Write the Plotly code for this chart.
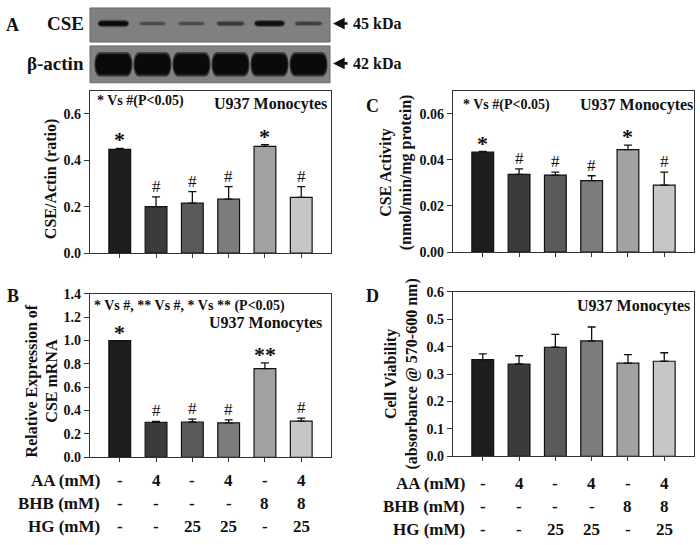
import plotly.graph_objects as go

W, H = 700, 545
FONT = "Liberation Serif, Times New Roman, serif"

lanes = [0, 1, 2, 3, 4, 5]
bar_colors = ["#1e1e1e", "#3b3b3b", "#5a5a5a", "#7c7c7c", "#a2a2a2", "#c6c6c6"]

# Panel A: CSE/Actin ratio
a_vals = [0.447, 0.200, 0.215, 0.232, 0.460, 0.240]
a_err = [0.004, 0.042, 0.050, 0.054, 0.007, 0.046]
a_marks = ["*", "#", "#", "#", "*", "#"]

# Panel B: relative CSE mRNA
b_vals = [1.00, 0.300, 0.302, 0.295, 0.760, 0.310]
b_err = [0.0, 0.008, 0.025, 0.025, 0.048, 0.025]
b_marks = ["*", "#", "#", "#", "**", "#"]

# Panel C: CSE activity
c_vals = [0.0433, 0.0337, 0.0334, 0.0310, 0.0444, 0.0290]
c_err = [0.0003, 0.0024, 0.0013, 0.0021, 0.0020, 0.0057]
c_marks = ["*", "#", "#", "#", "*", "#"]

# Panel D: cell viability
d_vals = [0.353, 0.337, 0.398, 0.421, 0.340, 0.347]
d_err = [0.021, 0.030, 0.047, 0.051, 0.031, 0.031]

# Western blot band intensities (0..1)
cse_band = [1.0, 0.45, 0.45, 0.6, 0.95, 0.55]
actin_band = [1.0, 1.0, 1.0, 1.0, 1.0, 1.0]

row_labels = ["AA (mM)", "BHB (mM)", "HG (mM)"]
aa_row = ["-", "4", "-", "4", "-", "4"]
bhb_row = ["-", "-", "-", "-", "8", "8"]
hg_row = ["-", "-", "25", "25", "-", "25"]


def px(x):
    return x / W


def py(y):
    return 1 - y / H


fig = go.Figure()

panels = [
    ("", a_vals, a_err, a_marks, (90, 331), (86, 253), [0, 0.7], 0.2, ".1f"),
    ("2", c_vals, c_err, c_marks, (453, 694), (86, 252), [0, 0.07], 0.02, ".2f"),
    ("3", b_vals, b_err, b_marks, (90, 331), (295, 463), [0, 1.4], 0.2, ".1f"),
    ("4", d_vals, d_err, None, (453, 694), (293, 462), [0, 0.6], 0.1, ".1f"),
]

annotations = []
shapes = []

for sfx, vals, err, marks, xd, yd, yr, dt, fmt in panels:
    xa = "x" + sfx
    ya = "y" + sfx
    fig.add_trace(go.Bar(
        x=lanes, y=vals, xaxis=xa, yaxis=ya,
        marker=dict(color=bar_colors, line=dict(color="#111111", width=1.2)),
        width=0.6,
        error_y=dict(type="data", array=err, arrayminus=[0] * len(err),
                     symmetric=False, color="#111111", thickness=1.3, width=4),
        showlegend=False, hoverinfo="y",
    ))
    fig.layout["xaxis" + sfx] = dict(
        domain=[px(xd[0]), px(xd[1])], range=[-0.82, 5.82], anchor=ya,
        showline=True, linecolor="#333333", linewidth=1.2, mirror=True,
        ticks="outside", ticklen=4, tickcolor="#333333", tickvals=lanes,
        ticktext=[""] * 6, showgrid=False, zeroline=False, fixedrange=True,
    )
    fig.layout["yaxis" + sfx] = dict(
        domain=[py(yd[1]), py(yd[0])], range=yr, anchor=xa,
        showline=True, linecolor="#333333", linewidth=1.2, mirror=True,
        ticks="outside", ticklen=5, tickcolor="#333333", dtick=dt, tick0=0,
        tickformat=fmt, showgrid=False, zeroline=False,
        tickfont=dict(family=FONT, size=14, color="#111111", weight="bold"),
        fixedrange=True,
    )
    if marks:
        for i, m in enumerate(marks):
            big = "*" in m
            annotations.append(dict(
                x=lanes[i], y=vals[i] + err[i], xref=xa, yref=ya,
                text=("<b>%s</b>" % m) if big else m, showarrow=False,
                yanchor="bottom", yshift=-6 if big else -1,
                font=dict(family=FONT, size=22 if big else 17, color="#111111"),
            ))

# ---- Western blot axis ----
fig.layout["xaxis5"] = dict(domain=[px(90), px(330)], range=[-0.6, 5.55], anchor="y5",
                            visible=False, fixedrange=True)
fig.layout["yaxis5"] = dict(domain=[py(79), py(0)], range=[79, 0], anchor="x5",
                            visible=False, fixedrange=True)


def gray_mix(t, bg=128):
    v = int(round(bg * (1 - t) + 10 * t))
    return "rgb(%d,%d,%d)" % (v, v, v)


shapes.append(dict(type="rect", xref="paper", yref="y5", x0=px(90), x1=px(330), y0=1, y1=36,
                   fillcolor="#808080", line=dict(color="#666666", width=1), layer="below"))
shapes.append(dict(type="rect", xref="paper", yref="y5", x0=px(90), x1=px(330), y0=40, y1=78,
                   fillcolor="#828282", line=dict(color="#666666", width=1), layer="below"))


def stadium(cx, hw, cy, hh):
    r = hw * 0.3
    return ("M %f,%f L %f,%f C %f,%f %f,%f %f,%f L %f,%f C %f,%f %f,%f %f,%f Z" % (
        cx - hw + r, cy - hh, cx + hw - r, cy - hh,
        cx + hw + r * 0.3, cy - hh, cx + hw + r * 0.3, cy + hh, cx + hw - r, cy + hh,
        cx - hw + r, cy + hh,
        cx - hw - r * 0.3, cy + hh, cx - hw - r * 0.3, cy - hh, cx - hw + r, cy - hh))


for i, t in enumerate(cse_band):
    hw = 0.28 + 0.1 * t
    shapes.append(dict(type="path", xref="x5", yref="y5", path=stadium(lanes[i], hw + 0.03, 17, 1.2 + 2.6 * t),
                       fillcolor=gray_mix(t * 0.45), line=dict(width=0), layer="above"))
    shapes.append(dict(type="path", xref="x5", yref="y5", path=stadium(lanes[i], hw, 17, 0.6 + 1.8 * t),
                       fillcolor=gray_mix(t), line=dict(width=0), layer="above"))

for i, t in enumerate(actin_band):
    shapes.append(dict(type="path", xref="x5", yref="y5", path=stadium(lanes[i], 0.49, 59, 12.5),
                       fillcolor="rgb(50,50,50)", line=dict(width=0), layer="above"))
    shapes.append(dict(type="path", xref="x5", yref="y5", path=stadium(lanes[i], 0.46, 59, 10.5),
                       fillcolor="rgb(10,10,10)", line=dict(width=0), layer="above"))


def ann(x, y, text, size, xanchor="center", angle=0, bold=True, **kw):
    d = dict(x=px(x), y=py(y), xref="paper", yref="paper", text=("<b>%s</b>" % text) if bold else text,
             showarrow=False, xanchor=xanchor, yanchor="middle", textangle=angle,
             font=dict(family=FONT, size=size, color="#111111"))
    d.update(kw)
    annotations.append(d)


ann(12, 18, "A", 18)
ann(65, 17, "CSE", 19)
ann(55, 58, "β-actin", 19)
for yy in (17, 58):
    annotations.append(dict(x=px(333), y=py(yy), xref="paper", yref="paper", text="",
                            showarrow=True, ax=16, ay=0, arrowhead=2, arrowsize=0.9,
                            arrowwidth=2.6, arrowcolor="#111111"))
ann(351, 17, "45 kDa", 16, xanchor="left")
ann(351, 58, "42 kDa", 16, xanchor="left")
ann(13, 297, "B", 18)
ann(373, 102, "C", 18)
ann(373, 297, "D", 18)

ann(51, 177, "CSE/Actin (ratio)", 16, angle=-90)
ann(42, 385, "Relative Expression of<br>CSE mRNA", 16, angle=-90)
ann(396, 170, "CSE Activity<br>(nmol/min/mg protein)", 16, angle=-90)
ann(402, 378, "Cell Viability<br>(absorbance @ 570-600 nm)", 16, angle=-90)

ann(95, 97, "* Vs #(P<0.05)", 14, xanchor="left")
ann(329, 100, "U937 Monocytes", 16, xanchor="right")
ann(461, 101, "* Vs #(P<0.05)", 14, xanchor="left")
ann(695, 101, "U937 Monocytes", 16, xanchor="right")
ann(92, 307, "* Vs #, ** Vs #, * Vs ** (P<0.05)", 14, xanchor="left")
ann(324, 325, "U937 Monocytes", 16, xanchor="right")
ann(692, 307, "U937 Monocytes", 16, xanchor="right")

for xa, xlab, ys in [("x3", 102, (487, 511, 534)), ("x4", 467, (490, 514, 537))]:
    for lab, row, yy in zip(row_labels, [aa_row, bhb_row, hg_row], ys):
        ann(xlab, yy, lab, 17, xanchor="right")
        for i, v in enumerate(row):
            annotations.append(dict(
                x=lanes[i], y=py(yy), xref=xa, yref="paper", text="<b>%s</b>" % v,
                showarrow=False, xanchor="center", yanchor="middle",
                font=dict(family=FONT, size=17, color="#111111")))

fig.update_layout(
    width=W, height=H, margin=dict(l=0, r=0, t=0, b=0),
    paper_bgcolor="white", plot_bgcolor="white",
    annotations=annotations, shapes=shapes, bargap=0.4,
)

fig.write_html("out.html", config={"displayModeBar": False},
               post_script="document.body.style.margin='0';document.body.style.overflow='hidden';")
